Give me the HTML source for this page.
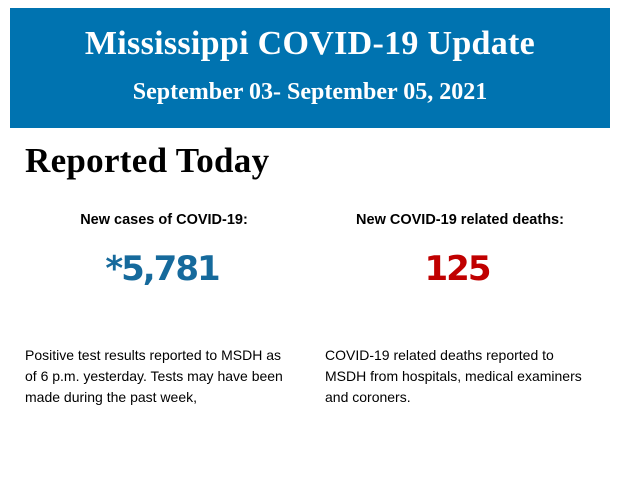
<!DOCTYPE html>
<html><head><style>
body{margin:0;width:620px;height:483px;background:#fff;position:relative;overflow:hidden}
.banner{position:absolute;left:10px;top:8px;width:600px;height:120px;background:#0073b0;color:#fff;font-family:"Liberation Serif",serif;font-weight:bold;text-align:center}
.t1{position:absolute;left:0;right:0;top:17px;font-size:34px;letter-spacing:0.3px}
.t2{position:absolute;left:0;right:0;top:71px;font-size:24px}
.h{position:absolute;left:25px;top:141px;font-family:"Liberation Serif",serif;font-weight:bold;font-size:35px;letter-spacing:0.3px;color:#000}
.lab{position:absolute;top:212px;font-family:"Liberation Sans",sans-serif;font-weight:bold;font-size:14.5px;color:#000;text-align:center;width:300px}
.num{position:absolute;top:249px;font-family:"DejaVu Sans",sans-serif;font-weight:bold;font-size:34px;letter-spacing:-2px;text-align:center;width:300px}
.p{position:absolute;top:345px;font-family:"Liberation Sans",sans-serif;font-size:14px;line-height:21px;color:#000;width:266px}
</style></head><body>
<div class="banner"><div class="t1">Mississippi COVID-19 Update</div><div class="t2">September 03- September 05, 2021</div></div>
<div class="h">Reported Today</div>
<div class="lab" style="left:14px">New cases of COVID-19:</div>
<div class="lab" style="left:310px">New COVID-19 related deaths:</div>
<div class="num" style="left:12px;color:#166a9c">*5,781</div>
<div class="num" style="left:307px;color:#c00000">125</div>
<div class="p" style="left:25px">Positive test results reported to MSDH as of 6 p.m. yesterday. Tests may have been made during the past week,</div>
<div class="p" style="left:325px;width:272px">COVID-19 related deaths reported to MSDH from hospitals, medical examiners and coroners.</div>
</body></html>
